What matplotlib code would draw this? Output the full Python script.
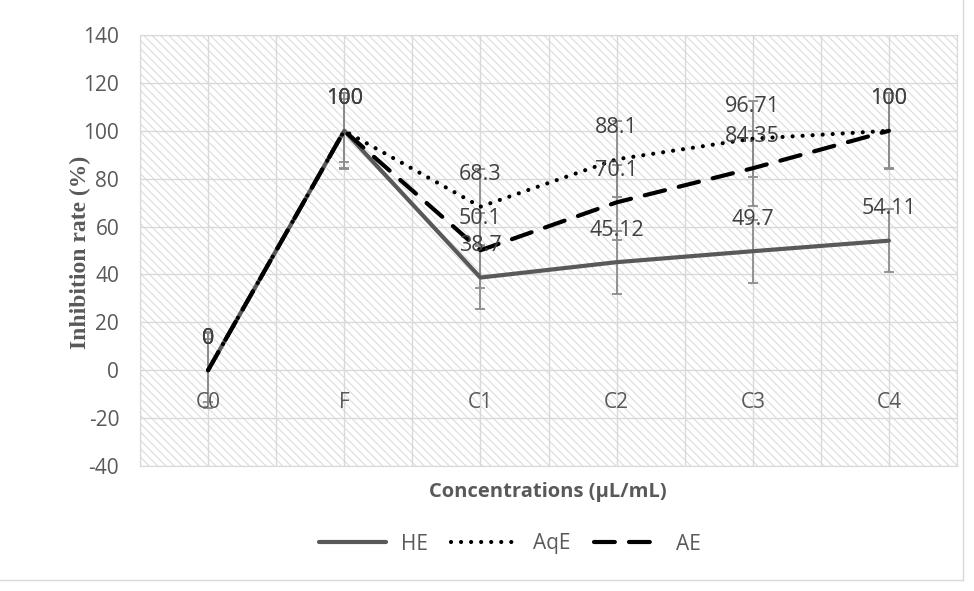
import matplotlib.pyplot as plt
from matplotlib.patches import Rectangle
from matplotlib.lines import Line2D

# data
categories = ["C0", "F", "C1", "C2", "C3", "C4"]
he = [0, 100, 38.7, 45.12, 49.7, 54.11]
aqe = [0, 100, 68.3, 88.1, 96.71, 100]
ae = [0, 100, 50.1, 70.1, 84.35, 100]
# error bar half-widths (one per series)
he_err = 13.1
aqe_err = 15.9
ae_err = 15.6

plt.rcParams["font.family"] = ["Open Sans", "DejaVu Sans"]
plt.rcParams["axes.unicode_minus"] = False
plt.rcParams["hatch.linewidth"] = 0.8
txt = "#595959"
grid = "#d9d9d9"

fig = plt.figure(figsize=(9.74, 5.91), dpi=100)
ax = fig.add_axes([140 / 974, 1 - 466 / 591, 817 / 974, 431 / 591])

x = list(range(len(categories)))

# hatched plot area
ax.set_facecolor("white")
ax.add_patch(Rectangle((0, 0), 1, 1, transform=ax.transAxes, facecolor="white",
                       edgecolor="#dcdcdc", linewidth=0, hatch="\\\\\\\\", zorder=0))

ax.set_xlim(-0.5, 5.5)
ax.set_ylim(-40, 140)
ax.set_yticks(range(-40, 141, 20))
ax.set_xticks([i * 0.5 - 0.5 for i in range(13)])
ax.set_xticklabels([])
ax.grid(True, color=grid, linewidth=1.0, zorder=1)
ax.set_axisbelow(True)
ax.tick_params(axis="both", length=0)
ax.tick_params(axis="y", labelsize=15, labelcolor=txt, pad=15)
for s in ax.spines.values():
    s.set_color(grid)

# error bars
for vals, err in [(he, he_err), (aqe, aqe_err), (ae, ae_err)]:
    ax.errorbar(x, vals, yerr=err, fmt="none", ecolor="#8c8c8c", elinewidth=1.3,
                capsize=3.8, capthick=1.3, zorder=2)

ax.plot(x, he, color=txt, linewidth=3, solid_capstyle="round", label="HE", zorder=3)
ax.plot(x, aqe, color="black", linewidth=3, linestyle=(0, (0.01, 2.4)),
        dash_capstyle="round", label="AqE", zorder=4)
ax.plot(x, ae, color="black", linewidth=3, linestyle=(0, (5, 3.4)),
        dash_capstyle="round", label="AE", zorder=5)

# data labels above points
for vals in [he, aqe, ae]:
    for xi, v in zip(x, vals):
        ax.annotate(f"{v:g}", (xi, v), xytext=(0, 23), textcoords="offset points",
                    ha="center", va="center", fontsize=15.5, color="#404040", zorder=6)

# category labels next to the zero line
for xi, c in zip(x, categories):
    ax.annotate(c, (xi, 0), xytext=(0, -23), textcoords="offset points",
                ha="center", va="center", fontsize=15, color=txt, zorder=6)

fig.text(80 / 974, 1 - 252 / 591, "Inhibition rate (%)", rotation=90, ha="center",
         va="center", fontsize=17, fontweight="bold", color=txt,
         family="Liberation Serif")
fig.text(548 / 974, 1 - 492 / 591, "Concentrations (µL/mL)", ha="center",
         va="center", fontsize=14.5, fontweight="bold", color=txt)

fig.legend(loc="center", bbox_to_anchor=(510 / 974, 1 - 544 / 591), ncol=3,
           frameon=False, fontsize=15, labelcolor=txt, handlelength=3.2,
           columnspacing=1.1, handletextpad=0.75)

# chart border (right and bottom visible)
fig.add_artist(Line2D([963 / 974, 963 / 974], [1 - 580 / 591, 1], color=grid, lw=1))
fig.add_artist(Line2D([0, 963 / 974], [1 - 580 / 591, 1 - 580 / 591], color=grid, lw=1))

fig.savefig("out.png", dpi=100)
